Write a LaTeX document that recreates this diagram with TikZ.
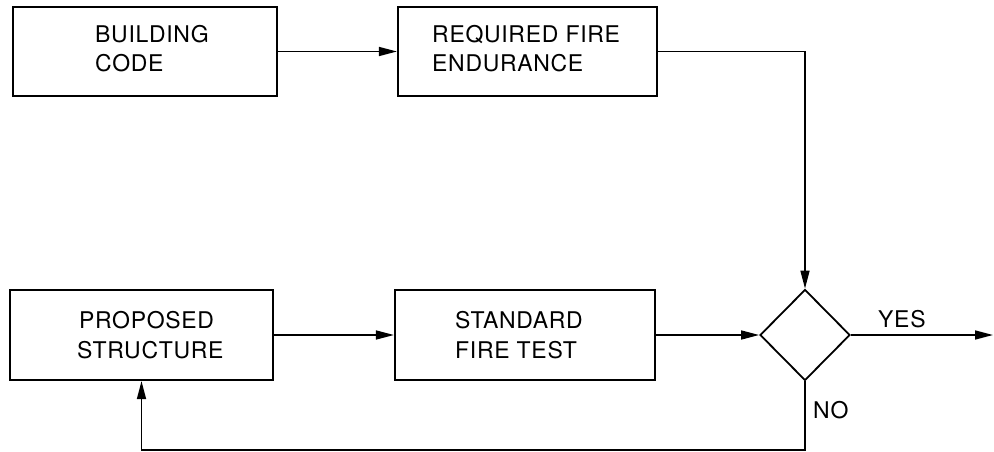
\documentclass[tikz,border=0pt]{standalone}
\usepackage{fontspec}
\setmainfont{TeX Gyre Heros}[LetterSpace=3]
\usetikzlibrary{arrows.meta,shapes.geometric}
\begin{document}
\begin{tikzpicture}[x=1pt,y=-1pt,
  box/.style={draw, line width=2.2pt, minimum width=260pt, minimum height=89pt, inner sep=0pt},
  txt/.style={anchor=base west, inner sep=0pt, font=\fontsize{23}{27}\selectfont},
  conn/.style={line width=1.6pt},
  arr/.style={conn, -{Triangle[length=18pt,width=9pt]}},
  dec/.style={draw, shape=diamond, line width=1.8pt, minimum width=90pt, minimum height=91pt, inner sep=0pt}]
\useasboundingbox (0,0) rectangle (994,452);
% boxes
\node[box, minimum width=264pt] (bc)  at (145,51.5) {};
\node[box, minimum width=259pt] (rfe) at (527.5,51.5) {};
\node[box, minimum width=263pt, minimum height=90pt] (ps)  at (141.5,335) {};
\node[box, minimum height=90pt] (sft) at (525,335) {};
\node[dec] (dia) at (805,335) {};
% texts
\node[txt] (bc1) at (95,43) {BUILDING};
\node[txt] (bc2) at (95,72) {CODE};
\node[txt] (rfe1) at (432,43) {REQUIRED FIRE};
\node[txt] (rfe2) at (432,72) {ENDURANCE};
\node[txt] (ps1) at (79,328) {PROPOSED};
\node[txt] (ps2) at (77,358) {STRUCTURE};
\node[txt] (sft1) at (455,328) {STANDARD};
\node[txt] (sft2) at (455,358) {FIRE TEST};
\node[txt] (yes) at (878,327) {YES};
\node[txt] (no) at (813,418) {NO};
% connectors
\coordinate (out) at (993,335);
\coordinate (low) at (805,450);
\draw[arr] (bc.east) -- (rfe.west);
\draw[arr] (rfe.east) -| (dia.north);
\draw[arr] (ps.east) -- (sft.west);
\draw[arr] (sft.east) -- (dia.west);
\draw[arr] (dia.east) -- (out);
\draw[arr] (dia.south) -- (low) -| (ps.south);
\end{tikzpicture}
\end{document}
